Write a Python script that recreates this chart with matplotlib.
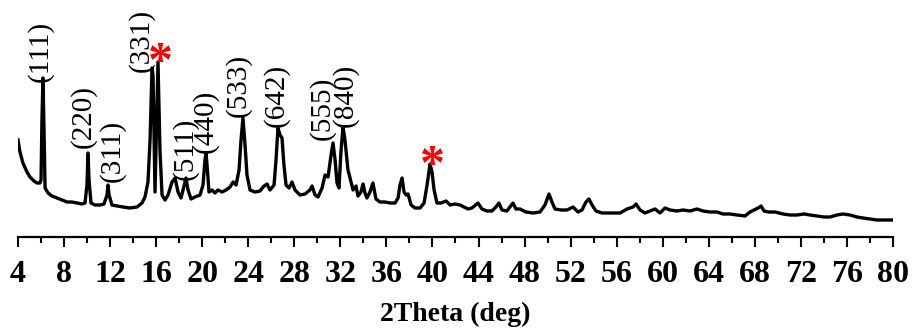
import matplotlib
matplotlib.use("Agg")
import matplotlib.pyplot as plt
from matplotlib.ticker import MultipleLocator

# XRD pattern (2-theta in degrees, intensity in arbitrary units)
two_theta = [
    4.00, 4.17, 4.43, 4.78, 5.04, 5.39, 5.65, 5.91, 6.00, 6.08, 6.17, 6.26, 6.35, 6.61,
    6.95, 7.39, 7.82, 8.26, 8.69, 9.12, 9.56, 9.82, 9.99, 10.08, 10.17, 10.34, 10.69,
    11.12, 11.47, 11.73, 11.82, 11.91, 12.16, 12.60, 13.12, 13.73, 14.34, 14.77, 15.03,
    15.29, 15.47, 15.64, 15.73, 15.90, 16.03, 16.16, 16.33, 16.51, 16.77, 17.03, 17.38,
    17.64, 17.90, 18.16, 18.42, 18.59, 18.77, 19.03, 19.37, 19.81, 20.07, 20.24, 20.33,
    20.42, 20.59, 20.85, 21.11, 21.37, 21.72, 22.07, 22.42, 22.68, 22.94, 23.20, 23.37,
    23.54, 23.72, 23.89, 24.15, 24.58, 25.02, 25.37, 25.63, 25.89, 26.24, 26.41, 26.58,
    26.76, 26.93, 27.10, 27.28, 27.54, 27.80, 28.06, 28.49, 28.93, 29.36, 29.54, 29.80,
    30.06, 30.41, 30.67, 30.93, 31.19, 31.36, 31.54, 31.71, 31.88, 32.06, 32.23, 32.40,
    32.66, 32.84, 33.10, 33.36, 33.53, 33.79, 33.97, 34.14, 34.31, 34.57, 34.83, 35.09,
    35.44, 35.88, 36.31, 36.75, 37.01, 37.18, 37.36, 37.53, 37.71, 37.88, 38.14, 38.49,
    38.92, 39.27, 39.53, 39.79, 39.96, 40.14, 40.39, 40.74, 41.18, 41.53, 41.96, 42.39,
    42.74, 43.09, 43.43, 43.95, 44.30, 44.73, 45.16, 45.51, 45.77, 46.04, 46.47, 46.73,
    46.99, 47.25, 47.60, 48.12, 48.73, 49.34, 49.77, 50.12, 50.38, 50.64, 51.16, 51.68,
    52.21, 52.64, 52.99, 53.33, 53.59, 53.86, 54.20, 54.73, 55.42, 56.29, 56.90, 57.42,
    57.68, 58.03, 58.46, 58.90, 59.33, 59.76, 60.20, 60.63, 61.24, 61.76, 62.37, 62.97,
    63.50, 64.11, 64.71, 65.23, 65.84, 66.45, 67.15, 67.58, 67.93, 68.28, 68.54, 68.80,
    69.14, 69.75, 70.45, 71.05, 71.66, 72.27, 72.79, 73.40, 74.01, 74.53, 75.14, 75.66,
    76.27, 76.87, 77.40, 78.00, 78.61, 79.31, 80.00,
]
intensity = [
    97, 85, 74, 65, 60, 56, 54, 54, 57, 117, 159, 107, 49, 44,
    41, 39, 37, 35, 35, 34, 33, 34, 52, 84, 57, 34, 32,
    32, 33, 42, 52, 42, 32, 31, 30, 29, 30, 34, 40,
    55, 97, 169, 162, 45, 110, 175, 87, 42, 37, 42, 55,
    59, 45, 39, 51, 59, 47, 38, 40, 42, 52, 77, 84,
    72, 45, 47, 44, 47, 45, 47, 50, 55, 52, 67, 97,
    119, 92, 62, 47, 45, 46, 51, 53, 47, 52, 77, 109,
    102, 99, 72, 52, 49, 55, 47, 42, 43, 47, 51, 42,
    40, 49, 62, 60, 82, 94, 77, 54, 49, 87, 110, 97,
    67, 59, 47, 51, 41, 45, 53, 44, 39, 45, 54, 38,
    35, 35, 34, 34, 39, 52, 59, 45, 42, 43, 32, 29,
    29, 34, 52, 73, 65, 47, 34, 34, 36, 32, 33, 32,
    30, 28, 29, 34, 28, 26, 26, 30, 34, 27, 26, 30,
    34, 28, 28, 25, 24, 25, 32, 43, 35, 28, 27, 27,
    30, 25, 27, 35, 38, 32, 26, 24, 24, 24, 28, 30,
    33, 27, 24, 26, 28, 24, 29, 27, 26, 27, 26, 28,
    26, 25, 25, 23, 23, 22, 21, 25, 27, 29, 31, 26,
    25, 25, 23, 22, 22, 23, 22, 21, 20, 20, 22, 23,
    22, 20, 19, 18, 17, 17, 17,
]

# Miller-index labels: text, x position, bottom of label
hkl_labels = ["(111)", "(220)", "(311)", "(331)", "(511)", "(440)",
              "(533)", "(642)", "(555)", "(840)"]
hkl_x = [5.91, 9.65, 12.16, 14.68, 18.51, 20.24, 23.11, 26.41, 30.41, 32.40]
hkl_y = [155, 89, 55, 165, 57, 84, 120, 110, 97, 110]

# Impurity peaks marked with a red asterisk
star_x = [16.33, 39.96]
star_y = [189, 86]

xticks = list(range(4, 81, 4))

fig = plt.figure(figsize=(9.15, 3.31), dpi=100)
ax = fig.add_axes([18 / 915, 1 - 237 / 331, 875 / 915, 237 / 331])

ax.plot(two_theta, intensity, color="black", lw=2.4, solid_joinstyle="round")

ax.set_xlim(4, 80)
ax.set_ylim(0, 237)
ax.set_xticks(xticks)
ax.xaxis.set_minor_locator(MultipleLocator(2))
ax.set_yticks([])
for side in ("left", "right", "top"):
    ax.spines[side].set_visible(False)
ax.spines["bottom"].set_linewidth(1.6)
ax.tick_params(axis="x", which="major", direction="out", length=7.5, width=1.5, pad=9)
ax.tick_params(axis="x", which="minor", direction="out", length=4, width=1.5)

serif = "Liberation Serif"
for lbl in ax.get_xticklabels():
    lbl.set_fontfamily(serif)
    lbl.set_fontweight("bold")
    lbl.set_fontsize(23)

ax.set_xlabel("2Theta (deg)", fontfamily=serif, fontweight="bold", fontsize=20, labelpad=9)

for t, x, y in zip(hkl_labels, hkl_x, hkl_y):
    ax.text(x, y, t, rotation=90, ha="center", va="bottom",
            fontfamily=serif, fontsize=21, clip_on=False)

star_fs = 36
for x, y in zip(star_x, star_y):
    ax.annotate("*", xy=(x, y), xytext=(0, -0.56 * star_fs), textcoords="offset points",
                ha="center", va="baseline", color="red", fontsize=star_fs,
                fontweight="bold", fontfamily=serif)

fig.savefig("out.png", dpi=100)
